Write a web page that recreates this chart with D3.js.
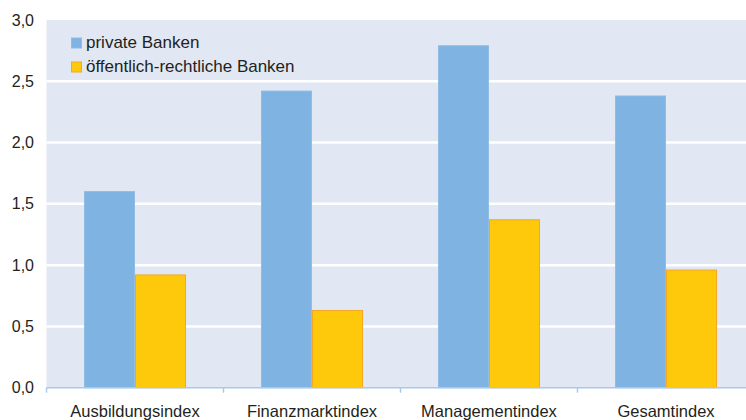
<!DOCTYPE html>
<html>
<head>
<meta charset="utf-8">
<script src="https://d3js.org/d3.v7.min.js"></script>
<style>
  body { margin: 0; background: #fff; font-family: "Liberation Sans", Arial, Helvetica, sans-serif; }
  svg text { fill: #231f20; }
</style>
</head>
<body>
<div id="viz"></div>
<script>
// data
const categories = ["Ausbildungsindex", "Finanzmarktindex", "Managementindex", "Gesamtindex"];
const seriesNames = ["private Banken", "öffentlich-rechtliche Banken"];
const privateBanks = [1.60, 2.42, 2.79, 2.38];
const publicBanks = [0.92, 0.63, 1.37, 0.96];
const yTicks = [0, 0.5, 1.0, 1.5, 2.0, 2.5, 3.0];

const colors = ["#7fb3e1", "#ffc90b"];
const strokes = ["#8fbde6", "#f5a623"];

const width = 746, height = 420;
const margin = {top: 20, left: 46.5};
const plotBottom = 387.7;

const svg = d3.select("#viz").append("svg")
    .attr("width", width)
    .attr("height", height);

const x0 = d3.scaleBand()
    .domain(categories)
    .range([margin.left, margin.left + 4 * 177])
    .padding(0);

const x1 = d3.scaleBand()
    .domain(seriesNames)
    .range([0, x0.bandwidth()])
    .paddingInner(0)
    .paddingOuter(0.735);

const y = d3.scaleLinear()
    .domain([0, 3])
    .range([plotBottom, margin.top]);

// plot background
svg.append("rect")
    .attr("x", margin.left)
    .attr("y", y(3))
    .attr("width", width - margin.left)
    .attr("height", y(0) - y(3))
    .attr("fill", "#e1e8f4");

// gridlines
svg.append("g")
  .selectAll("line")
  .data(yTicks.filter(d => d > 0 && d < 3))
  .join("line")
    .attr("x1", margin.left)
    .attr("x2", width)
    .attr("y1", d => y(d))
    .attr("y2", d => y(d))
    .attr("stroke", "#fff")
    .attr("stroke-width", 2.5);

// y labels
const fmt = d => d3.format(".1f")(d).replace(".", ",");
svg.append("g")
  .selectAll("text")
  .data(yTicks)
  .join("text")
    .attr("x", 34)
    .attr("y", d => y(d))
    .attr("dy", "0.35em")
    .attr("text-anchor", "end")
    .style("font-size", "16px")
    .text(fmt);

// bars
const rows = categories.map((c, i) => ({cat: c, values: [privateBanks[i], publicBanks[i]]}));
const groups = svg.append("g")
  .selectAll("g")
  .data(rows)
  .join("g")
    .attr("transform", d => `translate(${x0(d.cat)},0)`);

groups.selectAll("rect")
  .data(d => d.values.map((v, k) => ({key: seriesNames[k], k: k, v: v})))
  .join("rect")
    .attr("x", d => x1(d.key) + 0.5)
    .attr("y", d => y(d.v))
    .attr("width", x1.bandwidth() - 1)
    .attr("height", d => y(0) - y(d.v))
    .attr("fill", d => colors[d.k])
    .attr("stroke", d => strokes[d.k])
    .attr("stroke-width", 1);

// x axis
const axis = svg.append("g")
    .attr("transform", `translate(0,${plotBottom})`);
axis.append("line")
    .attr("x1", margin.left)
    .attr("x2", width)
    .attr("stroke", "#a9c9ea")
    .attr("stroke-width", 1.5);
axis.selectAll("line.tick")
  .data(categories)
  .join("line")
    .attr("class", "tick")
    .attr("x1", d => x0(d))
    .attr("x2", d => x0(d))
    .attr("y1", 0)
    .attr("y2", 5)
    .attr("stroke", "#a9c9ea")
    .attr("stroke-width", 1.5);
axis.selectAll("text")
  .data(categories)
  .join("text")
    .attr("x", d => x0(d) + x0.bandwidth() / 2)
    .attr("y", 29.5)
    .attr("text-anchor", "middle")
    .style("font-size", "16.5px")
    .text(d => d);

// legend
const legend = svg.append("g")
  .selectAll("g")
  .data(seriesNames)
  .join("g")
    .attr("transform", (d, i) => `translate(71,${42.5 + i * 24})`);
legend.append("rect")
    .attr("x", 0.5)
    .attr("y", -4.5)
    .attr("width", 10)
    .attr("height", 10)
    .attr("fill", (d, i) => colors[i])
    .attr("stroke", (d, i) => strokes[i]);
legend.append("text")
    .attr("x", 15)
    .attr("y", 0)
    .attr("dy", "0.35em")
    .style("font-size", "17px")
    .text(d => d);
</script>
</body>
</html>
